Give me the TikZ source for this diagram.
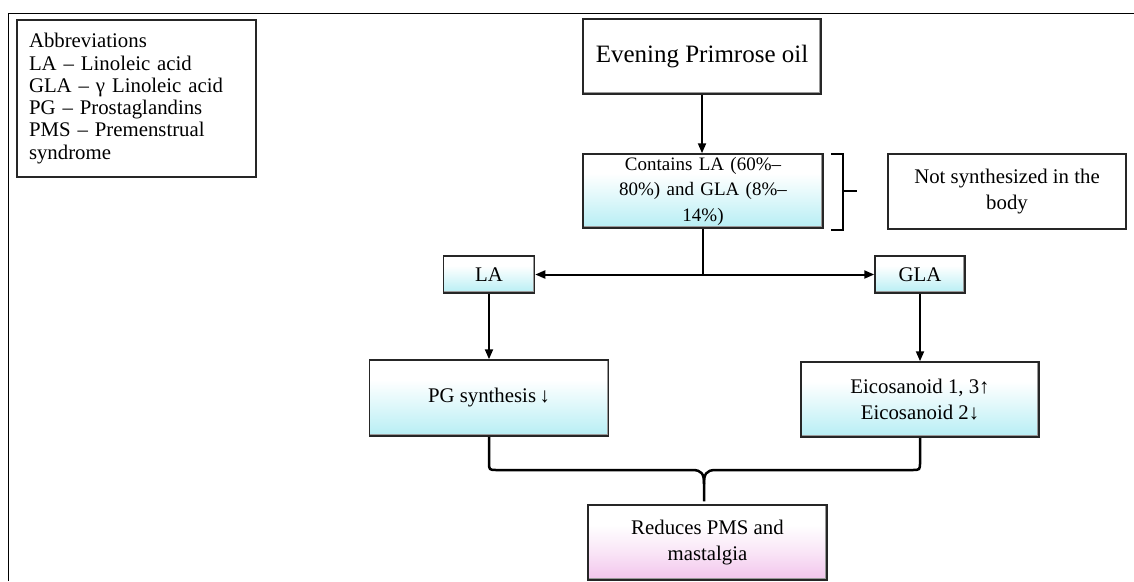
\documentclass[tikz,border=0pt]{standalone}
\usepackage{fontspec}
\setmainfont{Liberation Serif}
\usetikzlibrary{arrows.meta,calc}
\definecolor{cyanB}{RGB}{182,238,244}
\definecolor{pinkB}{RGB}{242,196,236}
\pgfdeclareverticalshading{cyanfade}{100bp}{color(0bp)=(cyanB); color(25bp)=(cyanB); color(45bp)=(cyanB!45!white); color(62bp)=(white); color(100bp)=(white)}
\pgfdeclareverticalshading{pinkfade}{100bp}{color(0bp)=(pinkB); color(25bp)=(pinkB); color(45bp)=(pinkB!40!white); color(62bp)=(white); color(100bp)=(white)}
\tikzset{
  bevel/.style={draw=black!85, line width=1.5pt,
    path picture={\draw[black!40,line width=4pt]
      (path picture bounding box.north east) -- (path picture bounding box.south east)
      -- (path picture bounding box.south west);}},
  whitebox/.style={bevel, fill=white, align=center, inner sep=2pt},
  cyanbox/.style={bevel, shading=cyanfade, align=center, inner sep=2pt},
  pinkbox/.style={bevel, shading=pinkfade, align=center, inner sep=2pt},
  plainbox/.style={draw=black!85, line width=1.3pt, fill=white, inner sep=2pt},
  arr/.style={line width=2pt, -{Triangle[length=10pt,width=8pt]}},
  thinline/.style={line width=1.3pt},
  bracestyle/.style={line width=1.8pt},
  bigbrace/.style={line width=2.5pt},
  txt/.style={font=\fontsize{20.8}{26}\selectfont},
}
\begin{document}
\begin{tikzpicture}[x=1pt,y=-1pt]
\useasboundingbox (0,0) rectangle (1134,581);
\fill[white] (0,0) rectangle (1134,581);
\draw[line width=1.5pt] (8.3,581) -- (8.3,13.3) -- (1134,13.3);

\node[plainbox, text width=215pt, align=left, minimum width=239pt, minimum height=157pt,
      inner xsep=12pt, font=\fontsize{20.8}{22.3}\selectfont] (abbr) at (136.5,98.5)
  {Abbreviations\\LA – Linoleic acid\\GLA – γ Linoleic acid\\PG – Prostaglandins\\PMS – Premenstrual\\syndrome};

\node[whitebox, minimum width=238pt, minimum height=75pt, font=\fontsize{25}{28}\selectfont] (evening) at (702,56.5) {Evening Primrose oil};

\node[cyanbox, minimum width=240pt, minimum height=74pt, text width=232pt, font=\fontsize{19}{25.5}\selectfont] (contains) at (703,191)
  {Contains LA (60\%–\\80\%) and GLA (8\%–\\14\%)};

\node[plainbox, txt, align=center, minimum width=238pt, minimum height=75pt] (notsyn) at (1007,191.5)
  {Not synthesized in the\\body};

\node[cyanbox, txt, minimum width=91pt, minimum height=37pt] (la) at (489,274.5) {LA};
\node[cyanbox, txt, minimum width=90pt, minimum height=37pt] (gla) at (920,274.5) {GLA};

\node[cyanbox, txt, minimum width=239pt, minimum height=76pt] (pg) at (489,398) {PG synthesis\,↓};
\node[cyanbox, txt, minimum width=238pt, minimum height=75pt] (eico) at (920,399.5) {Eicosanoid 1, 3↑\\Eicosanoid 2↓};

\node[pinkbox, txt, minimum width=239pt, minimum height=75pt] (reduces) at (707.5,542.5) {Reduces PMS and\\mastalgia};

% connectors
\draw[arr] (evening.south) -- (evening.south |- contains.north);
\coordinate (j) at (contains.south |- la.east);
\draw[thinline] (contains.south) -- (j);
\draw[line width=2pt, {Triangle[length=10pt,width=8pt]}-{Triangle[length=10pt,width=8pt]}] (la.east) -- (gla.west);
\draw[arr] (la.south) -- (pg.north);
\draw[arr] (gla.south) -- (eico.north);

% side bracket
\coordinate (bmid) at ($(contains.east)+(19,0)$);
\draw[bracestyle, line join=miter] ($(contains.north east)+(7,1)$) -| (bmid) -- ++(14,0) -- (bmid) |- ($(contains.south east)+(7,1)$);

% bottom brace
\coordinate (bar) at (0,470);
\coordinate (cusp) at ($(reduces.north)+(-3.5,-3)$);
\draw[bigbrace, line join=round]
  (pg.south) -- ($(pg.south |- bar)+(0,-8)$)
  .. controls (pg.south |- bar) .. ($(pg.south |- bar)+(8,0)$)
  -- ($(cusp |- bar)+(-12,0)$)
  .. controls ($(cusp |- bar)+(-2,0)$) and ($(cusp |- bar)+(0,4)$) .. ($(cusp |- bar)+(0,14)$)
  -- (cusp);
\draw[bigbrace, line join=round]
  (eico.south) -- ($(eico.south |- bar)+(0,-8)$)
  .. controls (eico.south |- bar) .. ($(eico.south |- bar)+(-8,0)$)
  -- ($(cusp |- bar)+(12,0)$)
  .. controls ($(cusp |- bar)+(2,0)$) and ($(cusp |- bar)+(0,4)$) .. ($(cusp |- bar)+(0,14)$);
\end{tikzpicture}
\end{document}
